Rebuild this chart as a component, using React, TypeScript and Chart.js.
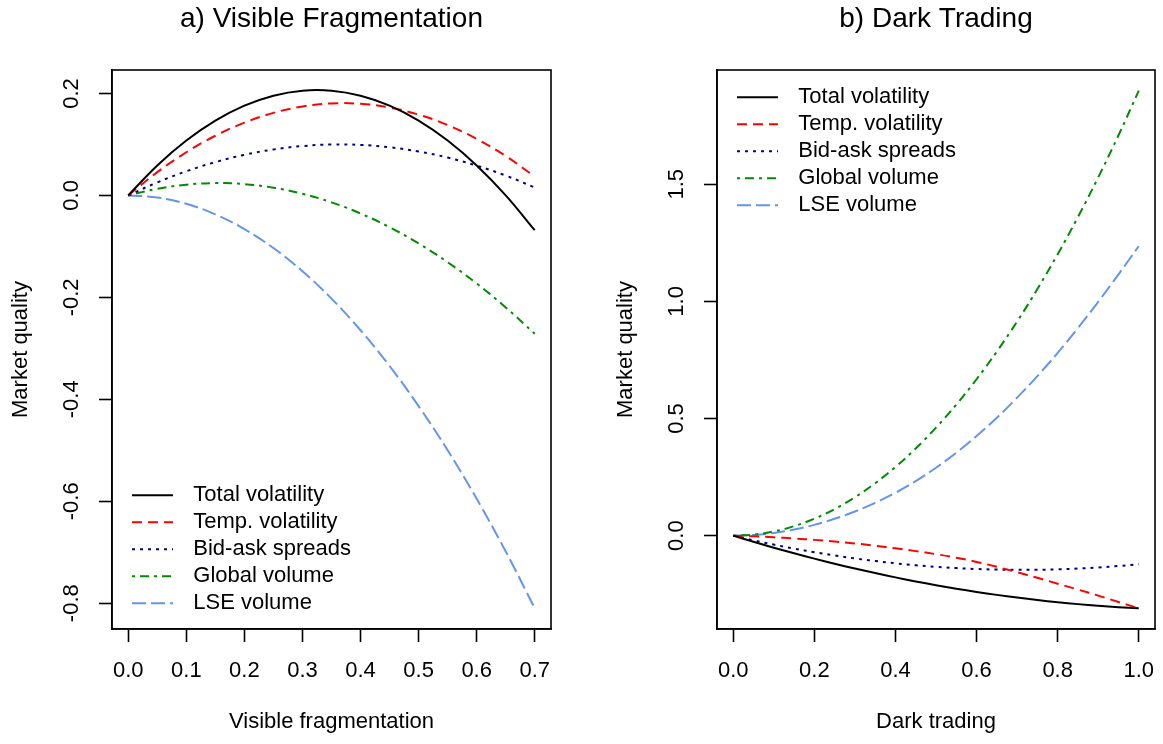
import React, { useEffect, useRef } from "react";
import { Chart, registerables } from "chart.js";

Chart.register(...registerables);

const FONT_FAMILY = "'Liberation Sans', Arial, Helvetica, sans-serif";

// ---------- shared series description ----------
const SERIES_NAMES = [
  "Total volatility",
  "Temp. volatility",
  "Bid-ask spreads",
  "Global volume",
  "LSE volume",
];
const SERIES_COLORS = ["#000000", "#FF0000", "#00008B", "#008B00", "#6495ED"];
const SERIES_DASHES: number[][] = [[], [10, 6], [3, 5], [3, 5, 9, 5], [14, 5]];

// ---------- panel a) Visible Fragmentation ----------
const FRAG_X = [0, 0.05, 0.1, 0.15, 0.2, 0.25, 0.3, 0.35, 0.4, 0.45, 0.5, 0.55, 0.6, 0.65, 0.7];
const FRAG_TOTAL_VOL = [0, 0.0587, 0.1076, 0.1467, 0.176, 0.1956, 0.2054, 0.2054, 0.1956, 0.1761, 0.1468, 0.1077, 0.0588, 0.0002, -0.0683];
const FRAG_TEMP_VOL = [0, 0.0456, 0.0846, 0.117, 0.1427, 0.1619, 0.1744, 0.1804, 0.1797, 0.1724, 0.1585, 0.138, 0.1109, 0.0772, 0.0368];
const FRAG_SPREADS = [0, 0.0255, 0.0473, 0.0653, 0.0796, 0.0901, 0.0968, 0.0998, 0.099, 0.0945, 0.0862, 0.0742, 0.0584, 0.0389, 0.0156];
const FRAG_GLOBAL_VOL = [0, 0.013, 0.021, 0.0241, 0.0221, 0.0152, 0.0033, -0.0136, -0.0355, -0.0624, -0.0943, -0.1311, -0.1729, -0.2197, -0.2715];
const FRAG_LSE_VOL = [0, -0.0041, -0.0165, -0.0372, -0.0661, -0.1033, -0.1488, -0.2025, -0.2645, -0.3347, -0.4133, -0.5, -0.5951, -0.6984, -0.81];
const FRAG_X_TICKS = [0, 0.1, 0.2, 0.3, 0.4, 0.5, 0.6, 0.7];
const FRAG_Y_TICKS = [-0.8, -0.6, -0.4, -0.2, 0, 0.2];

// ---------- panel b) Dark Trading ----------
const DARK_X = [0, 0.05, 0.1, 0.15, 0.2, 0.25, 0.3, 0.35, 0.4, 0.45, 0.5, 0.55, 0.6, 0.65, 0.7, 0.75, 0.8, 0.85, 0.9, 0.95, 1.0];
const DARK_TOTAL_VOL = [0, -0.0262, -0.0513, -0.0752, -0.098, -0.1197, -0.1403, -0.1597, -0.178, -0.1952, -0.2113, -0.2262, -0.24, -0.2527, -0.2643, -0.2747, -0.284, -0.2922, -0.2993, -0.3052, -0.31];
const DARK_TEMP_VOL = [0, -0.003, -0.007, -0.012, -0.018, -0.025, -0.033, -0.043, -0.054, -0.066, -0.079, -0.094, -0.112, -0.133, -0.156, -0.18, -0.205, -0.23, -0.256, -0.283, -0.31];
const DARK_SPREADS = [0, -0.0198, -0.0381, -0.055, -0.0705, -0.0845, -0.0971, -0.1082, -0.1179, -0.1262, -0.133, -0.1384, -0.1423, -0.1448, -0.1459, -0.1455, -0.1437, -0.1404, -0.1357, -0.1296, -0.122];
const DARK_GLOBAL_VOL = [0, 0.0045, 0.018, 0.0406, 0.0724, 0.1135, 0.1638, 0.2237, 0.2931, 0.3721, 0.4608, 0.5592, 0.6675, 0.7858, 0.914, 1.0525, 1.201, 1.3599, 1.5291, 1.7088, 1.899];
const DARK_LSE_VOL = [0, 0.0029, 0.0115, 0.026, 0.046, 0.072, 0.103, 0.14, 0.183, 0.233, 0.29, 0.354, 0.425, 0.503, 0.589, 0.681, 0.78, 0.886, 0.998, 1.115, 1.236];
const DARK_X_TICKS = [0, 0.2, 0.4, 0.6, 0.8, 1.0];
const DARK_Y_TICKS = [0, 0.5, 1.0, 1.5];

// R-style axis range: data range extended by 4% on each side
function rRange(vals: number[]): [number, number] {
  const lo = Math.min(...vals);
  const hi = Math.max(...vals);
  const pad = (hi - lo) * 0.04;
  return [lo - pad, hi + pad];
}

const boxPlugin = {
  id: "rBox",
  afterDatasetsDraw(chart: any) {
    const { ctx, chartArea } = chart;
    ctx.save();
    ctx.strokeStyle = "#000";
    ctx.lineWidth = 1.6;
    ctx.setLineDash([]);
    ctx.strokeRect(chartArea.left, chartArea.top, chartArea.right - chartArea.left, chartArea.bottom - chartArea.top);
    ctx.restore();
  },
};

const legendPlugin = {
  id: "rLegend",
  afterDatasetsDraw(chart: any, _args: any, opts: any) {
    if (!opts || !opts.at) return;
    const { ctx, chartArea } = chart;
    const ds = chart.data.datasets;
    const pitch = 27;
    const firstY =
      opts.at === "top"
        ? chartArea.top + 27.3
        : chartArea.bottom - 25.7 - pitch * (ds.length - 1);
    ctx.save();
    ds.forEach((d: any, i: number) => {
      const y = firstY + i * pitch;
      const x0 = chartArea.left + 20;
      ctx.beginPath();
      ctx.setLineDash(d.borderDash || []);
      ctx.lineCap = "butt";
      ctx.strokeStyle = d.borderColor;
      ctx.lineWidth = d.borderWidth;
      ctx.moveTo(x0, y);
      ctx.lineTo(x0 + 41, y);
      ctx.stroke();
      ctx.setLineDash([]);
      ctx.fillStyle = "#000";
      ctx.font = `22px ${FONT_FAMILY}`;
      ctx.textBaseline = "middle";
      ctx.textAlign = "left";
      ctx.fillText(d.label, chartArea.left + 81.3, y);
    });
    ctx.restore();
  },
};

type PanelProps = {
  left: number;
  width: number;
  title: string;
  xLabel: string;
  xs: number[];
  series: number[][];
  xTicks: number[];
  yTicks: number[];
  legendAt: "top" | "bottom";
  padLeft: number;
  padRight: number;
  yTickPad: number;
};

function Panel(p: PanelProps) {
  const ref = useRef<HTMLCanvasElement>(null);
  useEffect(() => {
    const canvas = ref.current;
    if (!canvas) return;
    const [xmin, xmax] = rRange(p.xs);
    const [ymin, ymax] = rRange(p.series.flat());
    const tickFont = { family: FONT_FAMILY, size: 22 };
    const grid = {
      display: true,
      drawOnChartArea: false,
      drawTicks: true,
      tickLength: 13,
      tickWidth: 1.6,
      tickColor: "#000",
      color: "#000",
    };
    const border = { display: true, color: "#000", width: 1.6 };
    const chart = new Chart(canvas, {
      type: "line",
      data: {
        datasets: p.series.map((ys, i) => ({
          label: SERIES_NAMES[i],
          data: p.xs.map((x, j) => ({ x, y: ys[j] })),
          borderColor: SERIES_COLORS[i],
          backgroundColor: SERIES_COLORS[i],
          borderWidth: 2,
          borderDash: SERIES_DASHES[i],
          borderCapStyle: "butt",
          pointRadius: 0,
          pointHoverRadius: 0,
          tension: 0.4,
          fill: false,
        })),
      },
      options: {
        responsive: false,
        animation: false,
        devicePixelRatio: 1,
        events: [],
        layout: { padding: { left: p.padLeft, right: p.padRight, top: 0, bottom: 9 } },
        plugins: {
          legend: { display: false },
          tooltip: { enabled: false },
          title: {
            display: true,
            text: p.title,
            color: "#000",
            fullSize: false,
            font: { family: FONT_FAMILY, size: 28, weight: "normal" },
            padding: { top: 2.2, bottom: 34.2 },
          },
          rLegend: { at: p.legendAt },
        } as any,
        scales: {
          x: {
            type: "linear",
            min: xmin,
            max: xmax,
            afterBuildTicks: (s: any) => {
              s.ticks = p.xTicks.map((v) => ({ value: v }));
            },
            afterFit: (s: any) => {
              s.height = 106;
              s.paddingLeft = 0;
              s.paddingRight = 0;
            },
            ticks: {
              autoSkip: false,
              maxRotation: 0,
              minRotation: 0,
              padding: 15.6,
              color: "#000",
              font: tickFont,
              callback: (v: any) => Number(v).toFixed(1),
            },
            grid,
            border,
            title: {
              display: true,
              text: p.xLabel,
              color: "#000",
              font: tickFont,
              padding: 0,
            },
          },
          y: {
            type: "linear",
            min: ymin,
            max: ymax,
            afterBuildTicks: (s: any) => {
              s.ticks = p.yTicks.map((v) => ({ value: v }));
            },
            afterFit: (s: any) => {
              s.width = 104;
              s.paddingTop = 0;
              s.paddingBottom = 0;
            },
            ticks: {
              autoSkip: false,
              minRotation: 90,
              maxRotation: 90,
              crossAlign: "center",
              padding: p.yTickPad,
              color: "#000",
              font: tickFont,
              callback: (v: any) => Number(v).toFixed(1),
            },
            grid,
            border,
            title: {
              display: true,
              text: "Market quality",
              color: "#000",
              font: tickFont,
              padding: 0,
            },
          },
        },
      } as any,
      plugins: [boxPlugin, legendPlugin],
    });
    return () => chart.destroy();
  }, []);
  return (
    <canvas
      ref={ref}
      width={p.width}
      height={744}
      style={{ position: "absolute", left: p.left, top: 0, width: p.width, height: 744 }}
    />
  );
}

export default function App() {
  return (
    <div style={{ position: "absolute", left: 0, top: 0, width: 1163, height: 744, background: "#fff" }}>
      <Panel
        left={0}
        width={582}
        title="a) Visible Fragmentation"
        xLabel="Visible fragmentation"
        xs={FRAG_X}
        series={[FRAG_TOTAL_VOL, FRAG_TEMP_VOL, FRAG_SPREADS, FRAG_GLOBAL_VOL, FRAG_LSE_VOL]}
        xTicks={FRAG_X_TICKS}
        yTicks={FRAG_Y_TICKS}
        legendAt="bottom"
        padLeft={8}
        padRight={31}
        yTickPad={8.3}
      />
      <Panel
        left={582}
        width={581}
        title="b) Dark Trading"
        xLabel="Dark trading"
        xs={DARK_X}
        series={[DARK_TOTAL_VOL, DARK_TEMP_VOL, DARK_SPREADS, DARK_GLOBAL_VOL, DARK_LSE_VOL]}
        xTicks={DARK_X_TICKS}
        yTicks={DARK_Y_TICKS}
        legendAt="top"
        padLeft={31}
        padRight={8}
        yTickPad={12}
      />
    </div>
  );
}
